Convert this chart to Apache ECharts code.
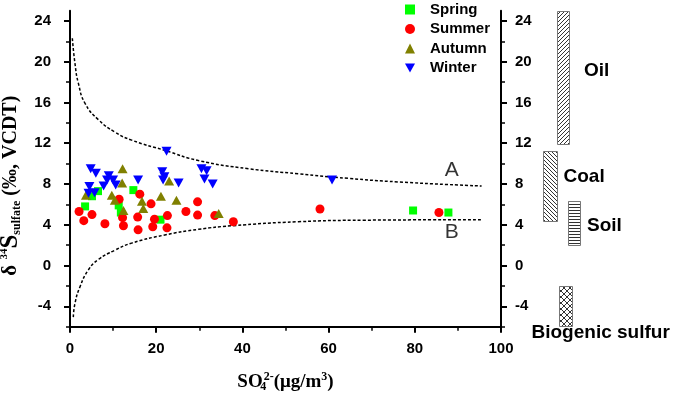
<!DOCTYPE html>
<html><head><meta charset="utf-8">
<script src="https://cdn.jsdelivr.net/npm/echarts@6/dist/echarts.min.js"></script>
<style>html,body{margin:0;padding:0;background:#fff}#c{width:675px;height:400px}</style>
</head><body><div id="c"></div>
<script>
// ---------- data ----------
const seasonNames = ['Spring', 'Summer', 'Autumn', 'Winter'];
const springData = [[3.5,5.8],[5.1,6.8],[6.5,7.3],[11.3,5.9],[11.8,5.2],[14.7,7.4],[21.0,4.5],[79.6,5.4],[87.8,5.2]];
const summerData = [[2.1,5.3],[3.2,4.4],[5.1,5.0],[8.1,4.1],[11.4,6.5],[12.2,4.7],[12.4,3.9],[15.7,4.75],[16.2,7.0],[15.8,3.5],[18.8,6.05],[19.2,3.8],[19.6,4.55],[22.6,4.9],[22.5,3.7],[26.9,5.3],[29.6,6.25],[29.6,4.95],[33.6,4.9],[37.9,4.3],[58.0,5.55],[85.6,5.2]];
const autumnData = [[3.7,6.9],[9.7,6.9],[10.4,6.4],[12.2,9.5],[12.1,8.1],[12.4,5.4],[16.7,6.3],[17.0,5.6],[21.1,6.8],[23.0,8.3],[24.7,6.4],[34.5,5.1]];
const winterData = [[4.8,9.5],[6.0,9.05],[4.5,7.75],[4.3,7.1],[5.7,7.15],[7.8,7.8],[8.6,8.4],[9.0,8.8],[10.0,8.4],[10.6,7.9],[15.8,8.4],[22.4,11.2],[21.4,9.2],[21.9,8.7],[21.6,8.4],[25.2,8.1],[30.5,9.5],[31.7,9.3],[31.2,8.5],[33.1,8.0],[60.8,8.4]];

const curveAX = [0.54,1.16,1.93,3.5,6.6,10.4,14.3,22.0,29.8,41.4,53.0,64.6,76.2,95.5];
const curveAY = [22.3,19.8,17.9,15.9,14.3,13.1,12.3,11.3,10.3,9.5,9.0,8.55,8.2,7.8];
const curveBX = [0.77,1.16,2.3,4.25,6.6,10.4,14.3,22.0,29.8,37.5,53.0,68.4,95.5];
const curveBY = [-5.06,-3.7,-2.1,-0.44,0.6,1.5,2.2,3.0,3.55,3.9,4.3,4.45,4.5];
const curveNames = ['A', 'B'];

const xTickLabels = [0, 20, 40, 60, 80, 100];
const yTickLabels = [-4, 0, 4, 8, 12, 16, 20, 24];
const yMinorTicks = [-6, -2, 2, 6, 10, 14, 18, 22];

const sourceNames = ['Oil', 'Coal', 'Soil', 'Biogenic sulfur'];
const sourceLow = [12, 4.3, 2.0, -5.9];
const sourceHigh = [25, 11.2, 6.3, -2.0];

// ---------- layout / style ----------
const seasonColors = ['#00ff00', '#ff0000', '#808000', '#0000ff'];
const seasonSymbols = ['rect', 'circle', 'triangle', 'triangle'];
const seasonSizes = [8, 9, [10, 9], [10, 9]];
const seasonRotate = [0, 0, 0, 180];
const legendIcons = ['rect', 'circle', 'triangle', 'path://M0,0L10,0L5,9Z'];
const curveLabelPos = [[88.6, 9.4], [88.6, 3.3]];
// bar x-extent and label anchor in the side panel (panel x units = px from plot's right edge)
const sourceLayout = [
  {x0: 56, x1: 68, lx: 83, ly: 19.1, pat: 'fwd'},
  {x0: 42, x1: 56, lx: 62.5, ly: 8.7, pat: 'back'},
  {x0: 67, x1: 79, lx: 86, ly: 3.9, pat: 'horiz'},
  {x0: 58, x1: 71, lx: 30.5, ly: -6.6, pat: 'cross'}
];

function makePattern(kind) {
  const c = document.createElement('canvas');
  const s = kind === 'cross' ? 6 : (kind === 'horiz' ? 3 : 4);
  c.width = s; c.height = s;
  const g = c.getContext('2d');
  g.fillStyle = '#fff'; g.fillRect(0, 0, s, s);
  g.strokeStyle = '#333'; g.lineWidth = 1;
  g.beginPath();
  if (kind === 'fwd' || kind === 'cross') {
    g.moveTo(-1, s + 1); g.lineTo(s + 1, -1);
    g.moveTo(-1, 1); g.lineTo(1, -1);
    g.moveTo(s - 1, s + 1); g.lineTo(s + 1, s - 1);
  }
  if (kind === 'back' || kind === 'cross') {
    g.moveTo(-1, -1); g.lineTo(s + 1, s + 1);
    g.moveTo(s - 1, -1); g.lineTo(s + 1, 1);
    g.moveTo(-1, s - 1); g.lineTo(1, s + 1);
  }
  if (kind === 'horiz') {
    g.moveTo(0, 0.5); g.lineTo(s, 0.5);
  }
  g.stroke();
  return {image: c, repeat: 'repeat'};
}
const patterns = {fwd: makePattern('fwd'), back: makePattern('back'), horiz: makePattern('horiz'), cross: makePattern('cross')};

const sansFont = '"Liberation Sans", Arial, sans-serif';
const serifFont = '"Liberation Serif", "Times New Roman", serif';
const axisLabelStyle = {color: '#000', fontWeight: 'bold', fontSize: 15, fontFamily: sansFont};
const axisLineStyle = {show: true, onZero: false, lineStyle: {color: '#000', width: 2}};

function yAxisPair(pos, withName) {
  const major = {
    type: 'value', gridIndex: 0, min: -6, max: 25, position: pos,
    axisLine: axisLineStyle,
    axisTick: {show: true, length: 6, customValues: yTickLabels, lineStyle: {color: '#000', width: 2}},
    axisLabel: Object.assign({customValues: yTickLabels, margin: pos === 'left' ? 19 : 14}, axisLabelStyle),
    splitLine: {show: false}
  };
  if (withName) {
    Object.assign(major, {
      name: '{d|δ }{sup|34}{S|S}{sub|sulfate}{t| (‰, VCDT)}',
      nameLocation: 'middle', nameRotate: 90, nameGap: 40,
      nameTextStyle: {
        padding: [0, 34, 0, 0],
        rich: {
          d: {fontSize: 21, fontWeight: 'bold', fontFamily: serifFont, color: '#000', verticalAlign: 'middle', lineHeight: 24},
          sup: {fontSize: 11, fontWeight: 'bold', fontFamily: serifFont, color: '#000', verticalAlign: 'top', lineHeight: 12},
          S: {fontSize: 25, fontWeight: 'bold', fontFamily: serifFont, color: '#000', verticalAlign: 'middle', lineHeight: 24},
          sub: {fontSize: 12, fontWeight: 'bold', fontFamily: serifFont, color: '#000', verticalAlign: 'bottom', lineHeight: 12},
          t: {fontSize: 20, fontWeight: 'bold', fontFamily: serifFont, color: '#000', verticalAlign: 'middle', lineHeight: 24}
        }
      }
    });
  }
  const minor = {
    type: 'value', gridIndex: 0, min: -6, max: 25, position: pos,
    axisLine: {show: false},
    axisTick: {show: true, length: 4, customValues: yMinorTicks, lineStyle: {color: '#000', width: 1.5}},
    axisLabel: {show: false},
    splitLine: {show: false}
  };
  return [major, minor];
}

const chart = echarts.init(document.getElementById('c'), null, {renderer: 'canvas'});

const seasonSeries = [springData, summerData, autumnData, winterData].map((d, i) => ({
  name: seasonNames[i], type: 'scatter', xAxisIndex: 0, yAxisIndex: 0,
  symbol: seasonSymbols[i], symbolSize: seasonSizes[i], symbolRotate: seasonRotate[i],
  itemStyle: {color: seasonColors[i], opacity: 1},
  data: d, z: 5
}));

const curveStyle = {color: '#000', width: 1.5, type: [3, 2]};
const option = {
  animation: false,
  backgroundColor: '#fff',
  grid: [
    {left: 70, right: 174, top: 10.7, bottom: 73.3, outerBoundsMode: 'none', containLabel: false},
    {left: 501, right: 0, top: 10.7, bottom: 73.3, outerBoundsMode: 'none', containLabel: false}
  ],
  legend: {
    orient: 'vertical', left: 400, top: -3, itemWidth: 10, itemHeight: 10, itemGap: 4.5,
    textStyle: {fontWeight: 'bold', fontSize: 15, fontFamily: sansFont, color: '#000', padding: [0, 0, 0, 10]},
    data: seasonNames.map((n, i) => ({name: n, icon: legendIcons[i]}))
  },
  xAxis: [
    {
      type: 'value', gridIndex: 0, min: 0, max: 100, interval: 20, position: 'bottom',
      axisLine: axisLineStyle,
      axisTick: {show: true, length: 6, lineStyle: {color: '#000', width: 2}},
      minorTick: {show: true, splitNumber: 2, length: 4, lineStyle: {color: '#000', width: 1.5}},
      axisLabel: Object.assign({margin: 15}, axisLabelStyle),
      splitLine: {show: false}, minorSplitLine: {show: false},
      name: '{b|SO}{sub|4}{sup|2-}{b|(μg/m}{sup3|3}{b|)}',
      nameLocation: 'middle', nameGap: 44,
      nameTextStyle: {
        rich: {
          b: {fontSize: 19, fontWeight: 'bold', fontFamily: serifFont, color: '#000', verticalAlign: 'middle', lineHeight: 22},
          sub: {fontSize: 12, fontWeight: 'bold', fontFamily: serifFont, color: '#000', verticalAlign: 'bottom', lineHeight: 10, width: 1},
          sup: {fontSize: 12, fontWeight: 'bold', fontFamily: serifFont, color: '#000', verticalAlign: 'top', lineHeight: 10},
          sup3: {fontSize: 12, fontWeight: 'bold', fontFamily: serifFont, color: '#000', verticalAlign: 'top', lineHeight: 10}
        }
      }
    },
    {type: 'value', gridIndex: 1, min: 0, max: 174, show: false}
  ],
  yAxis: [].concat(yAxisPair('left', true), yAxisPair('right', false), [
    {type: 'value', gridIndex: 1, min: -6, max: 25, show: false}
  ]),
  series: [
    {
      type: 'line', xAxisIndex: 0, yAxisIndex: 0, data: curveAX.map((x, i) => [x, curveAY[i]]),
      symbol: 'none', smooth: 0.5, lineStyle: curveStyle, z: 3, silent: true
    },
    {
      type: 'line', xAxisIndex: 0, yAxisIndex: 0, data: curveBX.map((x, i) => [x, curveBY[i]]),
      symbol: 'none', smooth: 0.5, lineStyle: curveStyle, z: 3, silent: true
    },
    {
      type: 'scatter', xAxisIndex: 0, yAxisIndex: 0, symbolSize: 0, silent: true,
      data: curveNames.map((n, i) => ({name: n, value: curveLabelPos[i]})),
      label: {show: true, position: 'inside', formatter: '{b}', color: '#000', fontSize: 21, fontFamily: sansFont}
    }
  ].concat(seasonSeries, [
    {
      type: 'custom', xAxisIndex: 1, yAxisIndex: 4, silent: true, clip: false,
      data: sourceNames.map((n, i) => [i, sourceLow[i], sourceHigh[i]]),
      renderItem: function (params, api) {
        const i = api.value(0);
        const lay = sourceLayout[i];
        const p0 = api.coord([lay.x0, api.value(2)]);
        const p1 = api.coord([lay.x1, api.value(1)]);
        const lp = api.coord([lay.lx, lay.ly]);
        return {
          type: 'group',
          children: [
            {type: 'rect', shape: {x: Math.round(p0[0]) + 0.5, y: Math.round(p0[1]) + 0.5, width: Math.round(p1[0] - p0[0]), height: Math.round(p1[1] - p0[1])},
             style: {fill: patterns[lay.pat], stroke: '#777', lineWidth: 1}},
            {type: 'text', x: lp[0], y: lp[1],
             style: {text: sourceNames[i], fill: '#000', font: 'bold 19px ' + sansFont, textAlign: 'left', textVerticalAlign: 'middle'}}
          ]
        };
      }
    }
  ])
};
chart.setOption(option);
</script>
</body></html>
